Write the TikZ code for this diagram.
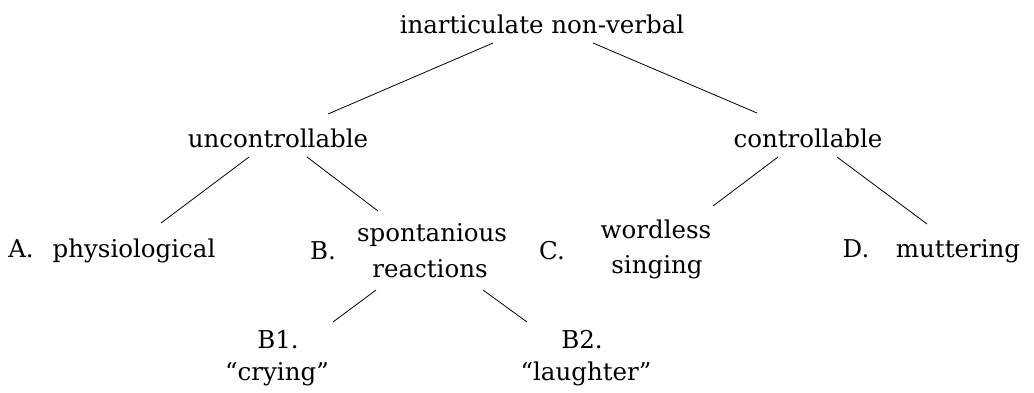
\documentclass[tikz,border=0pt]{standalone}
\usepackage{fontspec}
\setmainfont{DejaVu Serif}
\usetikzlibrary{calc}
\begin{document}
\begin{tikzpicture}[x=1pt,y=-1pt,
  lbl/.style={anchor=base, inner sep=0pt, font=\fontsize{24.5}{29}\selectfont},
  branch/.style={draw=black, line width=0.8pt}]
\useasboundingbox (0,0) rectangle (1034,392);
\node[lbl] (root) at (542,33) {inarticulate non-verbal};
\node[lbl] (unc) at (278,147) {uncontrollable};
\node[lbl] (con) at (808,147) {controllable};
\node[lbl] (lA) at (21,257) {A.};
\node[lbl] (phys) at (134,257) {physiological};
\node[lbl] (lB) at (323,259) {B.};
\node[lbl] (spon) at (432,241) {spontanious};
\node[lbl] (reac) at (430,277) {reactions};
\node[lbl] (lC) at (552,259) {C.};
\node[lbl] (word) at (656,238) {wordless};
\node[lbl] (sing) at (657,273) {singing};
\node[lbl] (lD) at (856,257) {D.};
\node[lbl] (mutt) at (958,257) {muttering};
\node[lbl] (b1) at (278,348) {B1.};
\node[lbl] (cry) at (277,380) {“crying”};
\node[lbl] (b2) at (582,348) {B2.};
\node[lbl] (laugh) at (586,380) {“laughter”};
\draw[branch] ($(root.base)+(-49,10)$) -- ($(unc.base)+(50,-33)$);
\draw[branch] ($(root.base)+(51,10)$) -- ($(con.base)+(-51,-34)$);
\draw[branch] ($(unc.base)+(-29,10)$) -- ($(phys.base)+(27,-34)$);
\draw[branch] ($(unc.base)+(29,10)$) -- ($(spon.base)+(-54,-30)$);
\draw[branch] ($(con.base)+(-30,10)$) -- ($(word.base)+(57,-32)$);
\draw[branch] ($(con.base)+(29,10)$) -- ($(mutt.base)+(-31,-33)$);
\draw[branch] ($(reac.base)+(-54,13)$) -- ($(b1.base)+(55,-26)$);
\draw[branch] ($(reac.base)+(53,13)$) -- ($(b2.base)+(-55,-26)$);
\end{tikzpicture}
\end{document}
